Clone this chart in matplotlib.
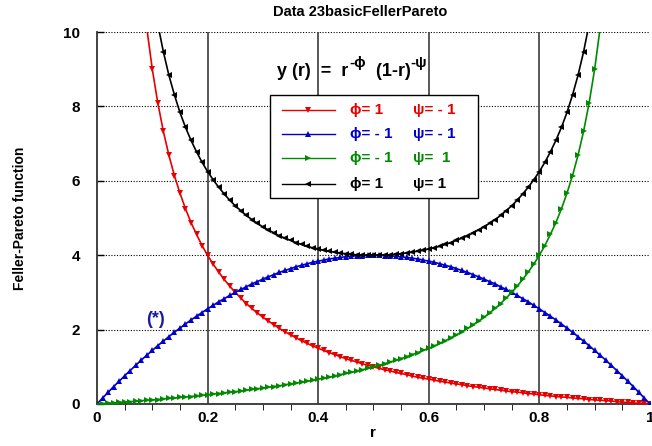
import numpy as np
import matplotlib
matplotlib.use("Agg")
import matplotlib.pyplot as plt
from matplotlib.patches import Rectangle

plt.rcParams['font.family'] = ['Liberation Sans', 'DejaVu Sans']
plt.rcParams['font.weight'] = 'bold'

# --- values (markers every 0.01 in r) ---
# phi = 1, psi = -1  (red)
r_red = np.linspace(0.08, 1.0, 93)
y_red = [11.5, 10.11, 9.0, 8.09, 7.33, 6.69, 6.14, 5.67, 5.25, 4.88, 4.56, 4.26,
         4.0, 3.76, 3.55, 3.35, 3.17, 3.0, 2.85, 2.70, 2.57, 2.45, 2.33, 2.23, 2.13,
         2.03, 1.94, 1.86, 1.78, 1.70, 1.63, 1.56, 1.5, 1.44, 1.38, 1.33, 1.27, 1.22,
         1.17, 1.13, 1.08, 1.04, 1.0, 0.96, 0.92, 0.89, 0.85, 0.82, 0.79, 0.75, 0.72,
         0.69, 0.67, 0.64, 0.61, 0.59, 0.56, 0.54, 0.52, 0.49, 0.47, 0.45, 0.43, 0.41,
         0.39, 0.37, 0.35, 0.33, 0.32, 0.30, 0.28, 0.27, 0.25, 0.23, 0.22, 0.20, 0.19,
         0.18, 0.16, 0.15, 0.14, 0.12, 0.11, 0.10, 0.09, 0.08, 0.06, 0.05, 0.04, 0.03,
         0.02, 0.01, 0.0]

# phi = -1, psi = -1  (blue)
r_blue = np.linspace(0.0, 1.0, 101)
y_blue = [0.0, 0.16, 0.31, 0.47, 0.61, 0.76, 0.90, 1.04, 1.18, 1.31, 1.44, 1.57,
          1.69, 1.81, 1.93, 2.04, 2.15, 2.26, 2.36, 2.46, 2.56, 2.65, 2.75, 2.83, 2.92,
          3.0, 3.08, 3.15, 3.23, 3.29, 3.36, 3.42, 3.48, 3.54, 3.59, 3.64, 3.69, 3.73,
          3.77, 3.81, 3.84, 3.87, 3.90, 3.92, 3.94, 3.96, 3.97, 3.99, 3.99, 4.0, 4.0,
          4.0, 3.99, 3.99, 3.97, 3.96, 3.94, 3.92, 3.90, 3.87, 3.84, 3.81, 3.77, 3.73,
          3.69, 3.64, 3.59, 3.54, 3.48, 3.42, 3.36, 3.29, 3.23, 3.15, 3.08, 3.00, 2.92,
          2.83, 2.75, 2.65, 2.56, 2.46, 2.36, 2.26, 2.15, 2.04, 1.93, 1.81, 1.69, 1.57,
          1.44, 1.31, 1.18, 1.04, 0.90, 0.76, 0.61, 0.47, 0.31, 0.16, 0.0]

# phi = -1, psi = 1  (green)
r_green = np.linspace(0.0, 0.92, 93)
y_green = [0.0, 0.01, 0.02, 0.03, 0.04, 0.05, 0.06, 0.08, 0.09, 0.10, 0.11, 0.12,
           0.14, 0.15, 0.16, 0.18, 0.19, 0.20, 0.22, 0.23, 0.25, 0.27, 0.28, 0.30, 0.32,
           0.33, 0.35, 0.37, 0.39, 0.41, 0.43, 0.45, 0.47, 0.49, 0.52, 0.54, 0.56, 0.59,
           0.61, 0.64, 0.67, 0.69, 0.72, 0.75, 0.79, 0.82, 0.85, 0.89, 0.92, 0.96, 1.0,
           1.04, 1.08, 1.13, 1.17, 1.22, 1.27, 1.33, 1.38, 1.44, 1.5, 1.56, 1.63, 1.70,
           1.78, 1.86, 1.94, 2.03, 2.13, 2.23, 2.33, 2.45, 2.57, 2.70, 2.85, 3.0, 3.17,
           3.35, 3.55, 3.76, 4.0, 4.26, 4.56, 4.88, 5.25, 5.67, 6.14, 6.69, 7.33, 8.09,
           9.0, 10.11, 11.5]

# phi = 1, psi = 1  (black)
r_black = np.linspace(0.09, 0.91, 83)
y_black = [12.21, 11.11, 10.21, 9.47, 8.84, 8.31, 7.84, 7.44, 7.09, 6.78, 6.50, 6.25,
           6.03, 5.83, 5.65, 5.48, 5.33, 5.20, 5.07, 4.96, 4.86, 4.76, 4.68, 4.60, 4.52,
           4.46, 4.40, 4.34, 4.29, 4.24, 4.20, 4.17, 4.13, 4.11, 4.08, 4.06, 4.04, 4.03,
           4.01, 4.01, 4.00, 4.00, 4.00, 4.01, 4.01, 4.03, 4.04, 4.06, 4.08, 4.11, 4.13,
           4.17, 4.20, 4.24, 4.29, 4.34, 4.40, 4.46, 4.52, 4.60, 4.68, 4.76, 4.86, 4.96,
           5.07, 5.20, 5.33, 5.48, 5.65, 5.83, 6.03, 6.25, 6.50, 6.78, 7.09, 7.44, 7.84,
           8.31, 8.84, 9.47, 10.21, 11.11, 12.21]

phi_labels = ['ϕ= 1', 'ϕ= - 1', 'ϕ= - 1', 'ϕ= 1']
psi_labels = ['ψ= - 1', 'ψ= - 1', 'ψ=  1', 'ψ= 1']
x_ticks = [0, 0.2, 0.4, 0.6, 0.8, 1]
x_ticklabels = ['0', '0.2', '0.4', '0.6', '0.8', '1']
y_ticks = [0, 2, 4, 6, 8, 10]

series = [
    (r_red, y_red, '#e60000', 'v'),
    (r_blue, y_blue, '#0000c8', '^'),
    (r_green, y_green, '#008a00', '>'),
    (r_black, y_black, 'black', '<'),
]

fig = plt.figure(figsize=(6.52, 4.46), dpi=100)
ax = fig.add_axes([0.1488, 0.0942, 0.848, 0.8338])

for r, y, col, mk in series:
    ax.plot(r, y, color=col, lw=1.2, marker=mk, ms=5, mew=0, zorder=3)

ax.set_xlim(0, 1)
ax.set_ylim(0, 10)

# grid: solid verticals, dotted horizontals
for xv in [0.2, 0.4, 0.6, 0.8]:
    ax.axvline(xv, color='#4a4a4a', lw=1.3, zorder=1)
ax.yaxis.grid(True, linestyle=(0, (1, 1.5)), color='black', lw=0.8, zorder=1)
ax.set_axisbelow(True)

ax.set_xticks(x_ticks)
ax.set_xticklabels(x_ticklabels)
ax.set_xticks(np.arange(0.05, 1.0, 0.05), minor=True)
ax.set_yticks(y_ticks)
ax.tick_params(axis='both', direction='in', labelsize=11, width=1)
ax.tick_params(axis='x', which='major', length=0, pad=5)
ax.tick_params(axis='x', which='minor', length=4)
ax.tick_params(axis='y', which='major', length=5, pad=12)
for lab in ax.get_xticklabels() + ax.get_yticklabels():
    lab.set_fontweight('bold')

ax.spines['top'].set_visible(False)
ax.spines['right'].set_visible(False)
for s in ['left', 'bottom']:
    ax.spines[s].set_color('#333333')
    ax.spines[s].set_linewidth(1.3)

# equation
t1 = ax.text(0.325, 0.882, 'y (r)  =  r', transform=ax.transAxes, fontsize=13,
             fontweight='bold', va='baseline', zorder=6)
t2 = ax.annotate('-ϕ', xy=(1, 1), xycoords=t1, xytext=(1, 5), textcoords='offset points',
                 fontsize=11, fontweight='bold', va='top', zorder=6)
t3 = ax.annotate('  (1-r)', xy=(1, 0), xycoords=(t2, t1), fontsize=13,
                 fontweight='bold', va='bottom', zorder=6)
ax.annotate('-ψ', xy=(1, 1), xycoords=t3, xytext=(0, 5), textcoords='offset points',
            fontsize=11, fontweight='bold', va='top', zorder=6)

# legend box
ax.add_patch(Rectangle((0.313, 0.554), 0.376, 0.277, transform=ax.transAxes,
                       facecolor='white', edgecolor='black', lw=1.0, zorder=5))
row_y = [0.791, 0.726, 0.661, 0.592]
for (r, y, col, mk), yy, ph, ps in zip(series, row_y, phi_labels, psi_labels):
    ax.plot([0.334, 0.382, 0.430], [yy, yy, yy], color=col, lw=1.0, marker=mk, ms=5,
            mew=0, markevery=[1], transform=ax.transAxes, zorder=6, clip_on=False)
    ax.text(0.457, yy, ph, color=col, fontsize=11, fontweight='bold', va='center',
            transform=ax.transAxes, zorder=6)
    ax.text(0.571, yy, ps, color=col, fontsize=11, fontweight='bold', va='center',
            transform=ax.transAxes, zorder=6)

ax.text(0.105, 2.26, '(*)', color='#1a1aa0', fontsize=13, fontweight='bold',
        ha='center', va='center')

fig.text(0.553, 0.973, 'Data 23basicFellerPareto', ha='center', va='center',
         fontsize=10.5, fontweight='bold')
fig.text(0.031, 0.511, 'Feller-Pareto function', rotation=90, ha='center', va='center',
         fontsize=10, fontweight='bold')
fig.text(0.572, 0.029, 'r', ha='center', va='center', fontsize=11, fontweight='bold')

fig.savefig('out.png', dpi=100)
